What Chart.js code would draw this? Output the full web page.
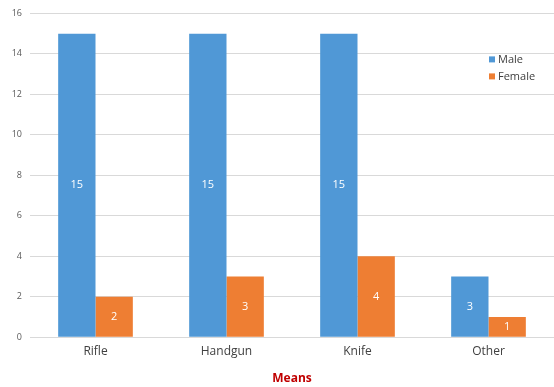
<!DOCTYPE html>
<html>
<head>
<meta charset="utf-8">
<script src="https://cdn.jsdelivr.net/npm/chart.js@4/dist/chart.umd.min.js"></script>
<style>
  html, body { margin: 0; padding: 0; background: #fff; }
  #wrap { width: 554px; height: 387px; position: relative; }
</style>
</head>
<body>
<div id="wrap"><canvas id="chart"></canvas></div>
<script>
// ── Data ───────────────────────────────────────────────────────────
const categories = ['Rifle', 'Handgun', 'Knife', 'Other'];
const maleCounts = [15, 15, 15, 3];
const femaleCounts = [2, 3, 4, 1];
const seriesNames = ['Male', 'Female'];
const axisTitle = 'Means';

const BLUE = '#5098D6';
const ORANGE = '#EE7E33';
const FONT = '"Open Sans", "DejaVu Sans", sans-serif';

// ── Value labels inside each bar ───────────────────────────────────
const barLabels = {
  id: 'barLabels',
  afterDatasetsDraw(chart) {
    const ctx = chart.ctx;
    ctx.save();
    ctx.fillStyle = '#ffffff';
    ctx.font = '11px ' + FONT;
    ctx.textAlign = 'center';
    ctx.textBaseline = 'middle';
    chart.data.datasets.forEach(function (ds, i) {
      chart.getDatasetMeta(i).data.forEach(function (bar, j) {
        const mid = (bar.y + bar.base) / 2;
        ctx.fillText(String(ds.data[j]), bar.x, mid);
      });
    });
    ctx.restore();
  }
};

// ── Legend drawn inside the plot, top right ────────────────────────
const innerLegend = {
  id: 'innerLegend',
  afterDraw(chart) {
    const ctx = chart.ctx;
    const area = chart.chartArea;
    const x = area.right - 65;
    let y = area.top + 46;
    ctx.save();
    ctx.font = '11px ' + FONT;
    ctx.textBaseline = 'middle';
    ctx.textAlign = 'left';
    chart.data.datasets.forEach(function (ds) {
      ctx.fillStyle = ds.backgroundColor;
      ctx.fillRect(x, y - 3, 6, 6);
      ctx.fillStyle = '#404040';
      ctx.fillText(ds.label, x + 9, y);
      y += 17;
    });
    ctx.restore();
  }
};

new Chart(document.getElementById('chart'), {
  type: 'bar',
  data: {
    labels: categories,
    datasets: [
      { label: seriesNames[0], data: maleCounts, backgroundColor: BLUE },
      { label: seriesNames[1], data: femaleCounts, backgroundColor: ORANGE }
    ]
  },
  options: {
    responsive: true,
    maintainAspectRatio: false,
    animation: false,
    layout: { padding: { top: 7, right: 0, left: 0, bottom: 0 } },
    datasets: {
      bar: { categoryPercentage: 0.57, barPercentage: 1.0 }
    },
    plugins: {
      legend: { display: false },
      tooltip: { enabled: false }
    },
    scales: {
      x: {
        grid: { display: false, drawTicks: false },
        border: { display: false },
        ticks: { color: '#404040', font: { family: FONT, size: 12 }, padding: 7 },
        title: {
          display: true,
          text: axisTitle,
          color: '#C00000',
          font: { family: FONT, size: 12, weight: 'bold' },
          padding: { top: 6, bottom: 1 }
        }
      },
      y: {
        min: 0,
        max: 16,
        ticks: { stepSize: 2, color: '#595959', font: { family: FONT, size: 9 }, padding: 8 },
        grid: { color: '#d9d9d9', drawTicks: false },
        border: { display: false },
        afterFit: function (scale) { scale.width = 30; }
      }
    }
  },
  plugins: [barLabels, innerLegend]
});
</script>
</body>
</html>
